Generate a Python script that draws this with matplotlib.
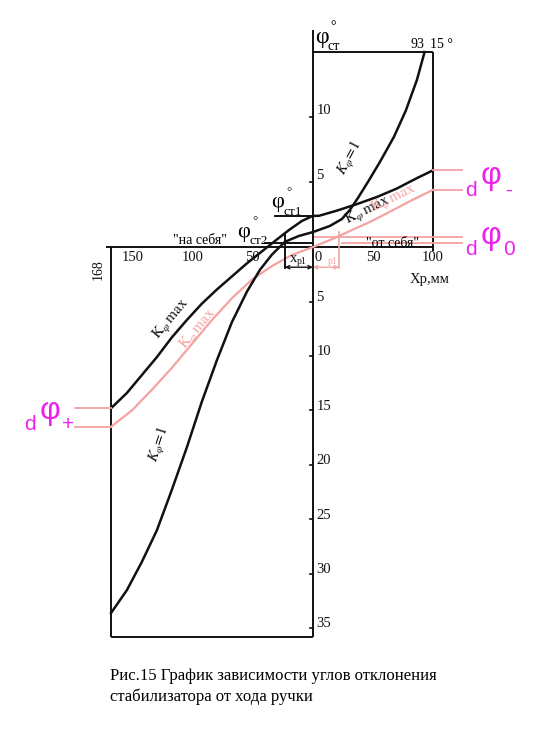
import numpy as np
import matplotlib
matplotlib.use("Agg")
import matplotlib.pyplot as plt

# ---------------- data ----------------
# stick travel Xp, mm  (negative = "на себя", positive = "от себя")
# stabilizer angle phi, deg (positive = upper scale, negative = lower scale)
k1_x = [-168, -154.8, -142.3, -129.8, -117.4, -104.9, -92.4, -79.9, -67.4, -54.9,
        -44.1, -34.1, -23.3, -11.7, 0, 14.1, 24.1, 30.8, 37.5, 45.8, 55.8, 67.4, 77.4, 86.6, 93]
k1_y = [-33.6, -31.5, -28.9, -26.0, -22.3, -18.4, -14.2, -10.4, -6.9, -4.1,
        -2.1, -0.7, 0.4, 0.85, 1.15, 1.62, 2.15, 2.85, 3.77, 5.0, 6.54, 8.46, 10.5, 12.85, 15.0]

kmax_x = [-168, -154.8, -142.3, -129.8, -117.4, -104.9, -92.4, -79.9, -67.4, -54.9,
          -42.4, -31.6, -20, -9.2, 0, 5, 20, 36.6, 53.3, 69.9, 86.6, 100]
kmax_y = [-14.8, -13.4, -11.75, -10.1, -8.3, -6.7, -5.2, -3.9, -2.7, -1.5,
          -0.4, 0.46, 1.3, 2.0, 2.4, 2.4, 2.8, 3.3, 3.85, 4.5, 5.3, 5.9]

kmax_pink_x = [-168, -150.6, -134, -117.4, -100.7, -84, -67.4, -50.8, -34.1, -17.5,
               0, 15.8, 32.5, 49, 65.8, 82.4, 100]
kmax_pink_y = [-16.5, -15.0, -13.1, -11.1, -8.9, -6.7, -4.7, -3.0, -1.75, -0.73,
               0.0, 0.6, 1.3, 2.0, 2.8, 3.6, 4.4]

phi_st1 = 2.4
phi_st2 = 0.3
xp1 = -23.3
op1 = 21.6
dphi0 = [0.8, 0.3]
phi_top = 15
x_top = 93

yticks_up = [5, 10]
yticks_down = [5, 10, 15, 20, 25, 30, 35]
xticks_left = [150, 100, 50]
xticks_right = [50, 100]

# ---------------- styling ----------------
BLACK = "#111111"
PINK = "#f4a3a3"
MAG = "#ee22ee"
SERIF = ["Liberation Serif", "DejaVu Serif"]
SANS = ["Liberation Sans", "DejaVu Sans"]
plt.rcParams["mathtext.fontset"] = "stix"

W, H = 553, 750
fig = plt.figure(figsize=(W / 100, H / 100), dpi=100)
fig.patch.set_facecolor("white")

X0, X1, Y0, Y1 = 111, 433, 52, 637   # pixel box of the axes
ax = fig.add_axes([X0 / W, 1 - Y1 / H, (X1 - X0) / W, (Y1 - Y0) / H])

K = 13.0 / 10.89   # upper scale is stretched relative to lower scale


def fwd(y):
    y = np.asarray(y, float)
    return np.where(y > 0, y * K, y)


def inv(y):
    y = np.asarray(y, float)
    return np.where(y > 0, y / K, y)


ax.set_yscale("function", functions=(fwd, inv))
ax.set_xlim(-168, 100)
ax.set_ylim(-35.8, 15)
ax.axis("off")


def P(px, py):
    return px / W, 1 - py / H


# ---------------- frame / axes lines ----------------
lk = dict(color=BLACK, lw=1.4, clip_on=False, solid_capstyle="butt")
ax.plot([0, 0], [-35.8, 16.7], **lk)               # vertical axis
ax.plot([-172, 100], [0, 0], **lk)                 # horizontal axis
ax.plot([0, 100], [15, 15], **lk)                  # top of upper box
ax.plot([100, 100], [15, -0.4], **lk)              # right of upper box
ax.plot([-168, -168], [0, -35.8], **lk)            # left of lower box
ax.plot([-168, 0], [-35.8, -35.8], **lk)           # bottom of lower box

# tick marks on vertical axis
for v in yticks_up:
    ax.plot([-2.5, 0], [v, v], color=BLACK, lw=1.2, clip_on=False)
for v in yticks_down:
    ax.plot([-2.5, 0], [-v, -v], color=BLACK, lw=1.2, clip_on=False)

# ---------------- curves ----------------
ax.plot(kmax_pink_x, kmax_pink_y, color=PINK, lw=1.6, clip_on=False)
ax.plot(k1_x, k1_y, color=BLACK, lw=1.8, clip_on=False)
ax.plot(kmax_x, kmax_y, color=BLACK, lw=1.8, clip_on=False)

# phi_st1 / phi_st2 marker lines
ax.plot([-31.7, 0], [phi_st1, phi_st1], color=BLACK, lw=1.4)
ax.plot([-40, 0], [phi_st2, phi_st2], color=BLACK, lw=1.4)

# xp1 bracket (black) and op1 bracket (pink)
ax.plot([xp1, xp1], [phi_st2 + 0.6, -1.95], color=BLACK, lw=1.4, clip_on=False)
ax.annotate("", xy=(xp1, -1.85), xytext=(0, -1.85),
            arrowprops=dict(arrowstyle="<->", color=BLACK, lw=1.0, shrinkA=0, shrinkB=0,
                            mutation_scale=6))
ax.plot([op1, op1], [1.15, -1.95], color=PINK, lw=1.2, clip_on=False)
ax.annotate("", xy=(op1, -1.85), xytext=(0, -1.85),
            arrowprops=dict(arrowstyle="<->", color=PINK, lw=1.0, shrinkA=0, shrinkB=0,
                            mutation_scale=6))

# d-phi marker lines (pink)
ax.plot([-198, -168], [kmax_y[0], kmax_y[0]], color=PINK, lw=1.3, clip_on=False)
ax.plot([-198, -168], [kmax_pink_y[0], kmax_pink_y[0]], color=PINK, lw=1.3, clip_on=False)
ax.plot([100, 124], [kmax_y[-1], kmax_y[-1]], color=PINK, lw=1.3, clip_on=False)
ax.plot([100, 124], [kmax_pink_y[-1], kmax_pink_y[-1]], color=PINK, lw=1.3, clip_on=False)
ax.plot([2, 124], [dphi0[0], dphi0[0]], color=PINK, lw=1.3, clip_on=False)
ax.plot([24, 124], [dphi0[1], dphi0[1]], color=PINK, lw=1.3, clip_on=False)

# ---------------- tick labels ----------------
tk = dict(family=SERIF, fontsize=10.5, color=BLACK)
for v in yticks_up:
    ax.text(3, v + 0.5, str(v), ha="left", va="center", **tk)
for v in yticks_down:
    ax.text(3, -v + 0.4, str(v), ha="left", va="center", **tk)
for v in xticks_left:
    ax.text(-v, -1.0, str(v), ha="center", va="center", **tk)
for v in xticks_right:
    ax.text(v, -1.0, str(v), ha="center", va="center", **tk)
ax.text(4, -1.0, "0", ha="center", va="center", **tk)
fig.text(*P(328, 262), "p1", family=SERIF, fontsize=7, color=PINK, ha="left", va="center")
fig.text(*P(290, 258), "x", family=SERIF, fontsize=10.5, color=BLACK, ha="left", va="center")
fig.text(*P(297, 261), "p1", family=SERIF, fontsize=7, color=BLACK, ha="left", va="center")
fig.text(*P(410, 280), "Xp,мм", family=SERIF, fontsize=10.5, color=BLACK, ha="left", va="center")
fig.text(*P(98, 270), "168", family=SERIF, fontsize=10, color=BLACK, ha="center", va="center",
         rotation=90)
fig.text(*P(417, 44), str(x_top), family=SERIF, fontsize=10, ha="center", va="center")
fig.text(*P(441, 44), "%d °" % phi_top, family=SERIF, fontsize=10, ha="center", va="center")
fig.text(*P(200, 241), "\"на себя\"", family=SERIF, fontsize=10, ha="center", va="center")
fig.text(*P(393, 243), "\"от себя\"", family=SERIF, fontsize=10, ha="center", va="center")

# phi_st labels


def phi_label(px, py, sub, size=16):
    fig.text(*P(px, py), "φ", family=SERIF, fontsize=size, ha="center", va="center")
    fig.text(*P(px + 8, py - 11), "°", family=SERIF, fontsize=size * 0.6, ha="left", va="center")
    fig.text(*P(px + 6, py + 9), sub, family=SERIF, fontsize=size * 0.6, ha="left", va="center")


phi_label(322, 38, "ст", 17)
phi_label(278, 203, "ст1", 16)
phi_label(244, 232, "ст2", 16)

# curve labels
ck = dict(fontsize=11, ha="center", va="center")
fig.text(*P(350, 158), r"$K_\varphi\!=\!1$", rotation=62, color=BLACK, **ck)
fig.text(*P(368, 211), r"$\mathrm{K}_\varphi\,\mathrm{max}$", rotation=26, color=BLACK, **ck)
fig.text(*P(394, 199), r"$\mathrm{K}_\varphi\,\mathrm{max}$", rotation=26, color=PINK, **ck)
fig.text(*P(172, 320), r"$\mathrm{K}_\varphi\,\mathrm{max}$", rotation=50, color=BLACK, **ck)
fig.text(*P(199, 330), r"$\mathrm{K}_\varphi\,\mathrm{max}$", rotation=50, color=PINK, **ck)
fig.text(*P(160, 445), r"$K_\varphi\!=\!1$", rotation=72, color=BLACK, **ck)

# d-phi labels (magenta)


def dphi(px, py, sub):
    fig.text(*P(px - 20, py + 14), "d", family=SANS, fontsize=15, color=MAG, ha="center", va="center")
    fig.text(*P(px, py), "φ", family=SANS, fontsize=23, color=MAG, ha="center", va="center")
    fig.text(*P(px + 18, py + 14), sub, family=SANS, fontsize=15, color=MAG, ha="center", va="center")


dphi(50, 411, "+")
dphi(491, 176, "-")
dphi(491, 236, "0")

# caption
fig.text(*P(110, 676), "Рис.15 График зависимости углов отклонения", family=SERIF,
         fontsize=12, ha="left", va="center")
fig.text(*P(110, 697), "стабилизатора от хода ручки", family=SERIF,
         fontsize=12, ha="left", va="center")

fig.savefig("out.png", dpi=100, facecolor="white")
